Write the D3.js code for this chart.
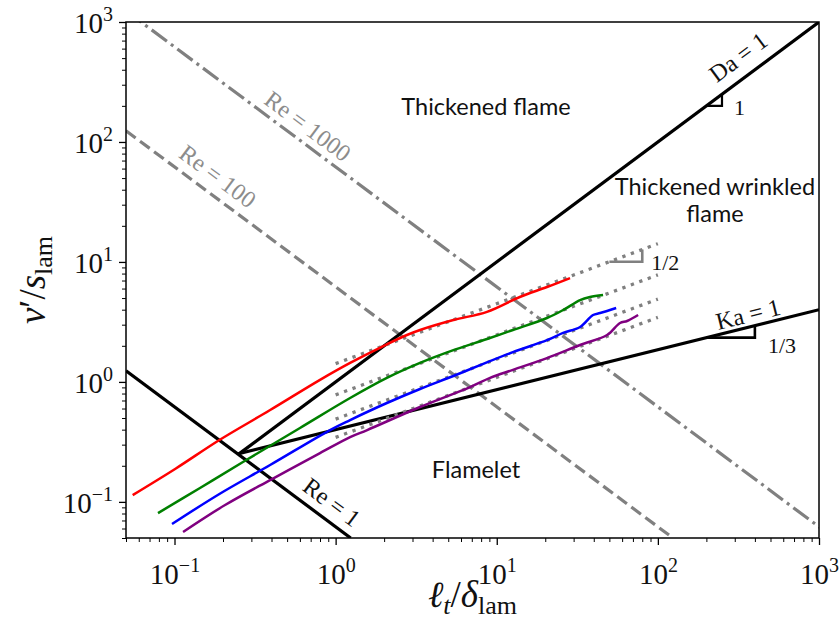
<!DOCTYPE html>
<html>
<head>
<meta charset="utf-8">
<script src="https://cdn.jsdelivr.net/npm/d3@7"></script>
<style>
  body { margin: 0; background: #fff; }
  svg { display: block; }
</style>
</head>
<body>
<svg id="chart"></svg>
<script>
// Regime diagram: v'/s_lam against l_t/delta_lam on log-log axes

const xTickValues = [0.1, 1, 10, 100, 1000];
const yTickValues = [0.1, 1, 10, 100, 1000];
const tickExponents = [-1, 0, 1, 2, 3];

// boundary lines, as end points [l_t/delta, v'/s]
const daLine = [[0.25, 0.25], [1000, 1000]];
const kaLine = [[0.25, 0.252], [1000, 4.0]];
const re1Line = [[0.05, 1.24], [1.24, 0.05]];
const re100Line = [[0.05, 124], [124, 0.05]];
const re1000Line = [[0.05, 1240], [1240, 0.05]];

// square-root fits drawn over each run
const fitLines = [
    [[1, 1.42], [100, 14.2]],
    [[1, 0.78], [100, 7.8]],
    [[1, 0.49], [100, 4.9]],
    [[1, 0.345], [100, 3.45]]
];

// measured runs
const redRun = [[0.055, 0.114], [0.102, 0.19], [0.19, 0.328], [0.39, 0.58], [0.8, 1.04],
    [1.23, 1.44], [2.08, 2.06], [2.77, 2.46], [3.34, 2.71], [5.38, 3.28], [8.7, 3.84],
    [13.9, 5.1], [20.5, 6.18], [28.5, 7.34]];
const greenRun = [[0.079, 0.0807], [0.144, 0.1305], [0.266, 0.215], [0.601, 0.413],
    [1.23, 0.734], [2.08, 1.08], [3.34, 1.44], [5.38, 1.84], [8.7, 2.28], [12.6, 2.71],
    [20.5, 3.41], [25.8, 3.97], [32.9, 4.81], [37.9, 5.10], [45.7, 5.30]];
const blueRun = [[0.0965, 0.0654], [0.19, 0.1164], [0.392, 0.203], [0.923, 0.397],
    [1.23, 0.481], [2.08, 0.667], [3.34, 0.873], [5.38, 1.12], [7.88, 1.38], [12.6, 1.77],
    [20.5, 2.23], [25.8, 2.56], [32.9, 2.87], [39.6, 3.61], [43.8, 3.75], [55.1, 4.13]];
const purpleRun = [[0.113, 0.0561], [0.206, 0.0942], [0.403, 0.155], [0.8, 0.255],
    [1.23, 0.347], [1.57, 0.397], [3.34, 0.618], [6.83, 0.906], [9.09, 1.08], [12.6, 1.26],
    [20.5, 1.58], [32.9, 2.03], [48.4, 2.46], [58.2, 3.1], [64.4, 3.22], [75.4, 3.61]];
const runs = [redRun, greenRun, blueRun, purpleRun];
const runColors = ["#ff0000", "#008000", "#0000ff", "#800080"];

// slope markers
const daTriangle = [[200, 200], [250, 200], [250, 250]];
const kaTriangle = [[200, 2.34], [400, 2.34], [400, 2.95]];
const halfTriangle = [[50, 10.04], [80, 10.04], [80, 12.7]];

const dims = {
    width: 839, height: 623,
    marginLeft: 126, marginRight: 20, marginTop: 22, marginBottom: 85
};

const mathFont = "'Liberation Serif', 'DejaVu Serif', serif";
const sansFont = "Lato, 'Noto Sans', sans-serif";

const svg = d3.select("#chart")
    .attr("width", dims.width)
    .attr("height", dims.height);

const x = d3.scaleLog()
    .domain([0.05, 1000])
    .range([dims.marginLeft, dims.width - dims.marginRight]);

const y = d3.scaleLog()
    .domain([0.05, 1000])
    .range([dims.height - dims.marginBottom, dims.marginTop]);

const line = d3.line()
    .x(d => x(d[0]))
    .y(d => y(d[1]));

const smooth = d3.line()
    .x(d => x(d[0]))
    .y(d => y(d[1]))
    .curve(d3.curveCatmullRom.alpha(0.5));

svg.append("clipPath").attr("id", "plot-clip")
    .append("rect")
    .attr("x", x.range()[0]).attr("y", y.range()[1])
    .attr("width", x.range()[1] - x.range()[0])
    .attr("height", y.range()[0] - y.range()[1]);

const plot = svg.append("g").attr("clip-path", "url(#plot-clip)");

// Reynolds lines
plot.append("path").datum(re100Line)
    .attr("fill", "none").attr("stroke", "#808080").attr("stroke-width", 3.2)
    .attr("stroke-dasharray", "12,5.5").attr("d", line);
plot.append("path").datum(re1000Line)
    .attr("fill", "none").attr("stroke", "#808080").attr("stroke-width", 3.2)
    .attr("stroke-dasharray", "19,5,3,5").attr("d", line);

// Da, Ka and Re = 1 boundaries
[daLine, kaLine, re1Line].forEach(d => {
    plot.append("path").datum(d)
        .attr("fill", "none").attr("stroke", "#000").attr("stroke-width", 3.2)
        .attr("stroke-linejoin", "round").attr("d", line);
});

// dotted fits
fitLines.forEach(d => {
    plot.append("path").datum(d)
        .attr("fill", "none").attr("stroke", "#808080").attr("stroke-width", 3.3)
        .attr("stroke-dasharray", "3.3,5.7").attr("d", line);
});

// runs
runs.forEach((run, i) => {
    plot.append("path").datum(run)
        .attr("fill", "none").attr("stroke", runColors[i]).attr("stroke-width", 2.5)
        .attr("stroke-linejoin", "round").attr("d", smooth);
});

// slope triangles
plot.append("path").datum(daTriangle)
    .attr("fill", "none").attr("stroke", "#000").attr("stroke-width", 2.2).attr("d", line);
plot.append("path").datum(kaTriangle)
    .attr("fill", "none").attr("stroke", "#000").attr("stroke-width", 2.6).attr("d", line);
plot.append("path").datum(halfTriangle)
    .attr("fill", "none").attr("stroke", "#808080").attr("stroke-width", 2.6).attr("d", line);

function slopeText(px, py, str) {
    svg.append("text")
        .attr("x", px).attr("y", py)
        .attr("font-family", mathFont).attr("font-size", 22)
        .attr("fill", "#111")
        .text(str);
}
slopeText(x(250) + 12, y(200) + 9, "1");
slopeText(x(400) + 13, y(2.34) + 15, "1/3");
slopeText(x(80) + 9, y(10.04) + 8, "1/2");

// labels along the boundary lines
const diagAngle = Math.atan2(y(1) - y(10), x(10) - x(1)) * 180 / Math.PI;
const kaAngle = Math.atan2(y(1) - y(Math.pow(10, 1 / 3)), x(10) - x(1)) * 180 / Math.PI;

function lineLabel(px, py, angle, str, color) {
    svg.append("text")
        .attr("transform", `translate(${px},${py}) rotate(${angle})`)
        .attr("text-anchor", "middle")
        .attr("dy", "0.35em")
        .attr("font-family", mathFont).attr("font-size", 24)
        .attr("fill", color)
        .text(str);
}
lineLabel(308, 126, diagAngle, "Re = 1000", "#8c8c8c");
lineLabel(218, 176, diagAngle, "Re = 100", "#8c8c8c");
lineLabel(332, 502, diagAngle, "Re = 1", "#111");
lineLabel(738, 57, -diagAngle, "Da = 1", "#111");
lineLabel(748, 314, -kaAngle, "Ka = 1", "#111");

// regime names
function regimeLabel(px, py, str) {
    svg.append("text")
        .attr("x", px).attr("y", py)
        .attr("text-anchor", "middle")
        .attr("font-family", sansFont).attr("font-size", 23.5)
        .attr("fill", "#111")
        .text(str);
}
regimeLabel(486, 115, "Thickened flame");
regimeLabel(715, 195, "Thickened wrinkled");
regimeLabel(715, 222, "flame");
regimeLabel(476, 478, "Flamelet");

// axes: major ticks from the axis generator, minor ticks added separately
function minorTicks(scale) {
    const out = [];
    const [lo, hi] = scale.domain();
    for (let e = -2; e <= 3; e++) {
        for (let m = 2; m <= 9; m++) {
            const v = m * Math.pow(10, e);
            if (v >= lo && v <= hi) out.push(v);
        }
    }
    return out;
}

function powerLabels(g, exps) {
    g.selectAll(".tick text").each(function (d, i) {
        const t = d3.select(this);
        t.text(null)
            .attr("font-family", mathFont)
            .attr("font-size", 29)
            .attr("fill", "#111");
        t.append("tspan").text("10");
        t.append("tspan")
            .attr("dy", -12)
            .attr("font-size", 20)
            .text(exps[i] < 0 ? "\u2212" + (-exps[i]) : exps[i]);
    });
}

const xAxis = svg.append("g")
    .attr("transform", `translate(0, ${y.range()[0]})`)
    .call(d3.axisBottom(x).tickValues(xTickValues).tickSize(7).tickPadding(9).tickFormat(""))
    .call(g => g.select(".domain").remove());
xAxis.selectAll(".tick line").attr("stroke-width", 1.3);
xAxis.selectAll(".tick text").attr("dy", "1.05em");
powerLabels(xAxis, tickExponents);

svg.append("g")
    .attr("transform", `translate(0, ${y.range()[0]})`)
    .call(d3.axisBottom(x).tickValues(minorTicks(x)).tickSize(4).tickFormat(""))
    .call(g => g.select(".domain").remove())
    .selectAll(".tick line").attr("stroke-width", 1);

const yAxis = svg.append("g")
    .attr("transform", `translate(${x.range()[0]}, 0)`)
    .call(d3.axisLeft(y).tickValues(yTickValues).tickSize(7).tickPadding(6).tickFormat(""))
    .call(g => g.select(".domain").remove());
yAxis.selectAll(".tick line").attr("stroke-width", 1.3);
yAxis.selectAll(".tick text").attr("dy", "0.36em");
powerLabels(yAxis, tickExponents);

svg.append("g")
    .attr("transform", `translate(${x.range()[0]}, 0)`)
    .call(d3.axisLeft(y).tickValues(minorTicks(y)).tickSize(4).tickFormat(""))
    .call(g => g.select(".domain").remove())
    .selectAll(".tick line").attr("stroke-width", 1);

// frame
svg.append("rect")
    .attr("x", x.range()[0]).attr("y", y.range()[1])
    .attr("width", x.range()[1] - x.range()[0])
    .attr("height", y.range()[0] - y.range()[1])
    .attr("fill", "none").attr("stroke", "#000").attr("stroke-width", 1.5);

// axis titles
const xTitle = svg.append("text")
    .attr("x", (x.range()[0] + x.range()[1]) / 2)
    .attr("y", 607)
    .attr("text-anchor", "middle")
    .attr("font-family", mathFont).attr("font-size", 37)
    .attr("fill", "#111");
xTitle.append("tspan").attr("font-style", "italic").text("\u2113");
xTitle.append("tspan").attr("font-style", "italic").attr("font-size", 26).attr("dy", 7).text("t");
xTitle.append("tspan").attr("dy", -7).text("/");
xTitle.append("tspan").attr("font-style", "italic").text("\u03b4");
xTitle.append("tspan").attr("font-size", 26).attr("dy", 7).text("lam");

const yTitle = svg.append("text")
    .attr("transform", `translate(45, ${(y.range()[0] + y.range()[1]) / 2}) rotate(-90)`)
    .attr("text-anchor", "middle")
    .attr("font-family", mathFont).attr("font-size", 37)
    .attr("fill", "#111");
yTitle.append("tspan").attr("font-style", "italic").text("v");
yTitle.append("tspan").text("\u2032/");
yTitle.append("tspan").attr("font-style", "italic").text("s");
yTitle.append("tspan").attr("font-size", 26).attr("dy", 7).text("lam");
</script>
</body>
</html>
